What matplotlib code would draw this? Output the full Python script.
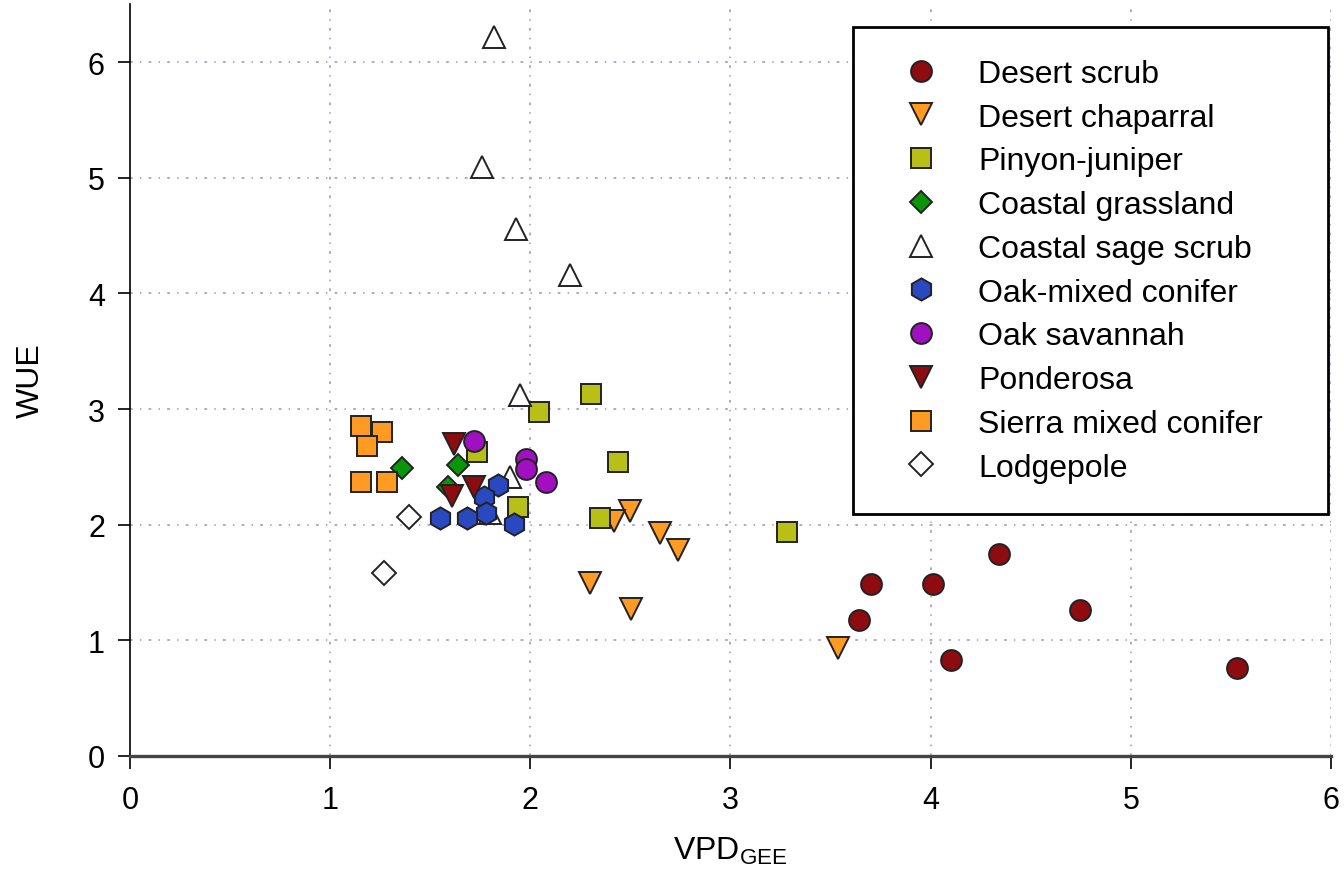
import matplotlib
matplotlib.use('Agg')
import matplotlib.pyplot as plt

plt.rcParams['font.family'] = ['Liberation Sans', 'DejaVu Sans']
plt.rcParams['mathtext.fontset'] = 'custom'
plt.rcParams['mathtext.rm'] = 'Liberation Sans'

# WUE against VPD for each vegetation type
sites = ['Desert scrub', 'Desert chaparral', 'Pinyon-juniper', 'Coastal grassland',
         'Coastal sage scrub', 'Oak-mixed conifer', 'Oak savannah', 'Ponderosa',
         'Sierra mixed conifer', 'Lodgepole']

desert_scrub_x = [3.64, 3.70, 4.01, 4.34, 4.10, 4.745, 5.53]
desert_scrub_y = [1.18, 1.49, 1.49, 1.75, 0.83, 1.26, 0.76]

chaparral_x = [3.535, 2.50, 2.42, 2.65, 2.74, 2.30, 2.505]
chaparral_y = [0.93, 2.12, 2.03, 1.93, 1.78, 1.50, 1.27]

pinyon_x = [2.305, 2.437, 2.347, 3.28, 2.045, 1.733, 1.94]
pinyon_y = [3.13, 2.54, 2.06, 1.94, 2.97, 2.625, 2.15]

grassland_x = [1.358, 1.638, 1.588]
grassland_y = [2.487, 2.52, 2.33]

sage_x = [1.82, 1.757, 1.93, 2.197, 1.95, 1.90, 1.80]
sage_y = [6.22, 5.09, 4.56, 4.16, 3.12, 2.41, 2.10]

oak_conifer_x = [1.838, 1.767, 1.78, 1.547, 1.683, 1.917]
oak_conifer_y = [2.343, 2.236, 2.10, 2.06, 2.06, 2.005]

savannah_x = [1.72, 1.98, 1.98, 2.08]
savannah_y = [2.726, 2.57, 2.48, 2.366]

ponderosa_x = [1.62, 1.717, 1.608]
ponderosa_y = [2.70, 2.33, 2.25]

sierra_x = [1.153, 1.258, 1.183, 1.153, 1.283]
sierra_y = [2.85, 2.80, 2.68, 2.366, 2.366]

lodgepole_x = [1.392, 1.27]
lodgepole_y = [2.07, 1.58]

xs = [desert_scrub_x, chaparral_x, pinyon_x, grassland_x, sage_x,
      oak_conifer_x, savannah_x, ponderosa_x, sierra_x, lodgepole_x]
ys = [desert_scrub_y, chaparral_y, pinyon_y, grassland_y, sage_y,
      oak_conifer_y, savannah_y, ponderosa_y, sierra_y, lodgepole_y]

markers = ['o', 'v', 's', 'D', '^', 'h', 'o', 'v', 's', 'D']
colors = ['#8e0c10', '#ff9a22', '#b8c018', '#0a960a', 'white',
          '#2a48c0', '#a010c0', '#8e0c10', '#ff9a22', 'white']
sizes = [15, 16, 15, 11.5, 16, 16, 15, 16, 15, 12.5]

fig = plt.figure(figsize=(13.44, 8.79), dpi=100)
ax = fig.add_axes([0.0967, 0.1388, 0.8936, 0.8553])

for i in range(len(sites)):
    ax.plot(xs[i], ys[i], linestyle='none', marker=markers[i], ms=sizes[i],
            mfc=colors[i], mec='#222222', mew=1.4, label=sites[i], zorder=3)

ax.set_xlim(0, 6)
ax.set_ylim(0, 6.5)
ax.set_xticks(range(0, 7))
ax.set_yticks(range(0, 7))
ax.tick_params(labelsize=22, length=9, width=1.2, direction='out')
ax.tick_params(axis='y', pad=9)
ax.tick_params(axis='x', pad=12)

ax.spines['top'].set_visible(False)
ax.spines['right'].set_visible(False)
ax.spines['left'].set_linewidth(1.2)
ax.spines['bottom'].set_linewidth(2.4)
ax.spines['bottom'].set_color('#444444')

grid_style = dict(color='#a4a4c8', linestyle=(0, (1.5, 4, 0.8, 4)), lw=1.3, zorder=1)
for v in range(1, 7):
    ax.axvline(v, **grid_style)
    ax.axhline(v, **grid_style)

ax.set_xlabel(r'VPD$_{\mathrm{GEE}}$', fontsize=23, labelpad=14)
ax.set_ylabel('WUE', fontsize=23, labelpad=30)

leg = ax.legend(loc='upper left', bbox_to_anchor=(0.602, 0.3, 0.3955, 0.6697),
                mode='expand', fontsize=23, numpoints=1, handlelength=2.26,
                handletextpad=0.66, borderpad=1.0, labelspacing=0.43,
                fancybox=False, framealpha=1, borderaxespad=0)
leg.get_frame().set_edgecolor('black')
leg.get_frame().set_linewidth(2)

plt.savefig('out.png', dpi=100)
